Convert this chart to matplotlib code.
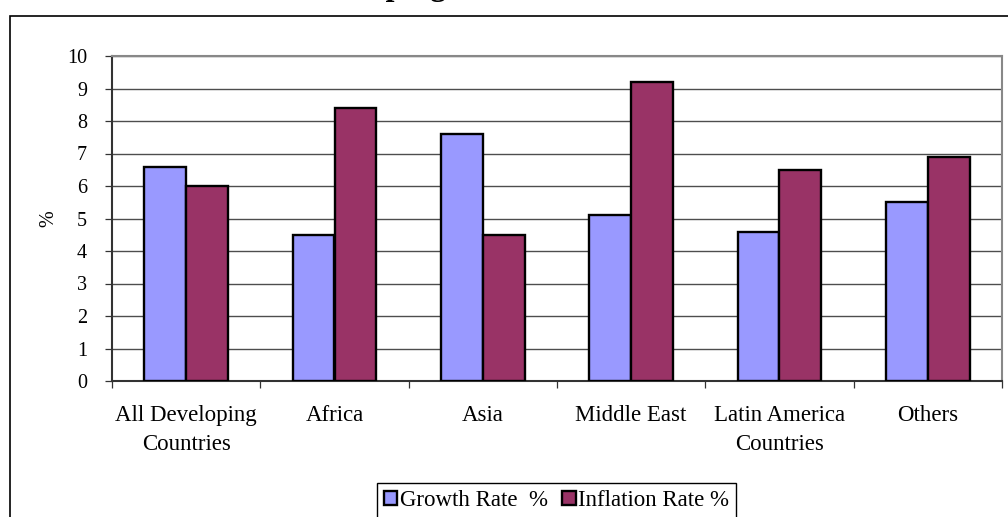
import matplotlib

matplotlib.use("Agg")
import matplotlib.pyplot as plt
import numpy as np
from matplotlib.patches import Rectangle

regions = ["All Developing\nCountries", "Africa", "Asia", "Middle East",
           "Latin America\nCountries", "Others"]
growth = [6.6, 4.5, 7.6, 5.1, 4.6, 5.5]
inflation = [6.0, 8.4, 4.5, 9.2, 6.5, 6.9]

BLUE, MAROON = "#9999FF", "#993366"
W, H = 1008, 517

plt.rcParams["font.family"] = ["Liberation Serif", "DejaVu Serif"]

fig = plt.figure(figsize=(W / 100, H / 100), dpi=100)
ax = fig.add_axes([112 / W, 1 - 381 / H, (1002 - 112) / W, (381 - 56) / H])

x = np.arange(len(regions))
bw = 0.283
ax.bar(x - bw / 2, growth, bw, color=BLUE, edgecolor="black", lw=1.7,
       label="Growth Rate  %", zorder=3)
ax.bar(x + bw / 2, inflation, bw, color=MAROON, edgecolor="black", lw=1.7,
       label="Inflation Rate %", zorder=3)

ax.set_xlim(-0.5, len(regions) - 0.5)
ax.set_ylim(0, 10)
ax.set_yticks(range(11))
ax.yaxis.grid(True, color="#4d4d4d", lw=1.0, zorder=1)
ax.tick_params(axis="y", direction="out", length=5, width=0.9, pad=13,
               labelsize=14.5, color="#333333")

# category boundaries carry the ticks, labels sit at the centres
ax.set_xticks(np.arange(-0.5, len(regions)), labels=[""] * (len(regions) + 1))
ax.set_xticks(x, labels=regions, minor=True)
ax.tick_params(axis="x", which="major", direction="out", length=5, width=0.9,
               color="#333333")
ax.tick_params(axis="x", which="minor", length=0, pad=17, labelsize=16.5)
for lab in ax.get_xticklabels(minor=True):
    lab.set_linespacing(1.55)

for s in ("top", "right"):
    ax.spines[s].set_color("#888888")
    ax.spines[s].set_linewidth(1.5)
for s in ("left", "bottom"):
    ax.spines[s].set_color("#333333")
    ax.spines[s].set_linewidth(1.5)

ax.set_ylabel("%", fontsize=14.5)
ax.yaxis.set_label_coords((58 - 112) / (1002 - 112), 0.5)

# outer chart frame, running past the right and bottom edges
fig.add_artist(Rectangle((10 / W, -0.2), 1.2, 1 - 16 / H + 0.2,
                         transform=fig.transFigure, fill=False,
                         edgecolor="black", lw=1.2))

fig.text(293 / W, 1 + 4.5 / H, "Developing Countries", fontsize=23,
         fontweight="bold", ha="left", va="baseline")

fig.legend(loc="upper center", bbox_to_anchor=(556.5 / W, 1 - 483 / H),
           ncol=2, fontsize=16.5, frameon=True, fancybox=False,
           edgecolor="black", framealpha=1, borderpad=0.3, borderaxespad=0,
           handlelength=0.6, handleheight=0.6, handletextpad=0.12,
           columnspacing=0.6).get_frame().set_linewidth(1.0)

fig.savefig("out.png", dpi=100, facecolor="white")
